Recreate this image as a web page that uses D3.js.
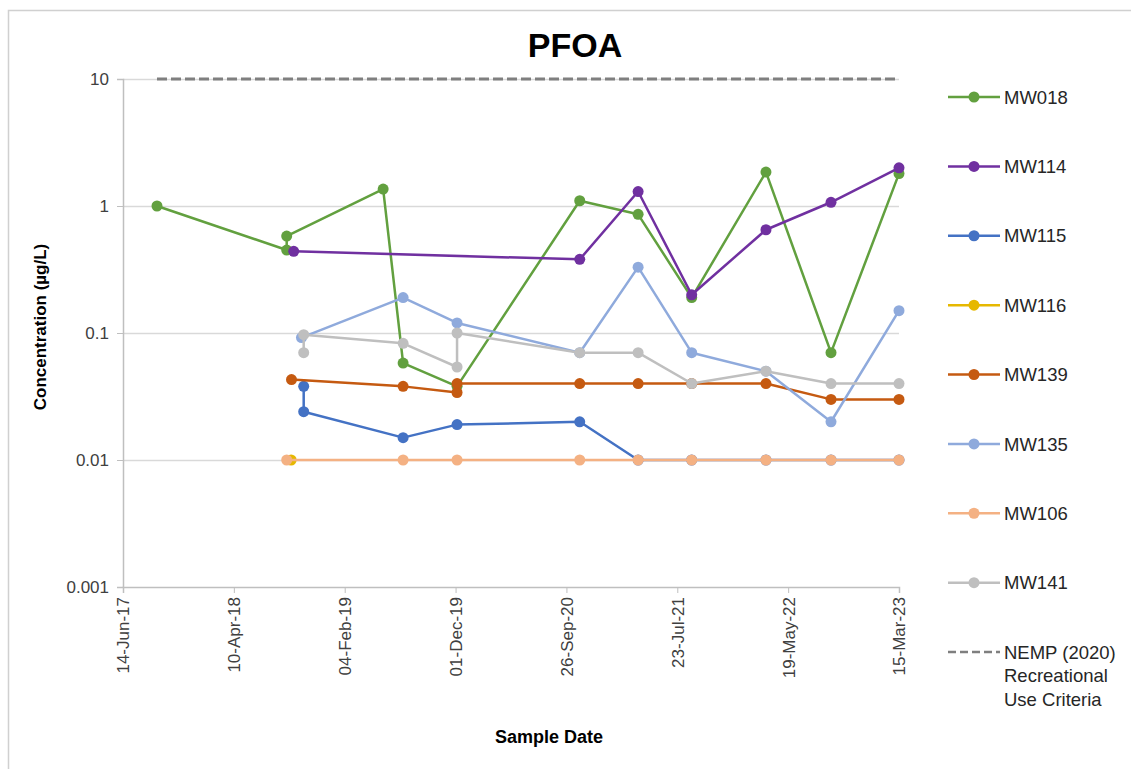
<!DOCTYPE html>
<html>
<head>
<meta charset="utf-8">
<script src="https://cdn.jsdelivr.net/npm/d3@7"></script>
<style>
  body { margin: 0; background: #fff; }
  text { font-family: "Liberation Sans", Arial, sans-serif; }
</style>
</head>
<body>
<svg id="chart" width="1131" height="769"></svg>
<script>
// sample dates and concentrations (ug/L)
var mw018Dates = ["2017-09-14", "2018-08-31", "2018-08-31", "2019-05-19", "2019-07-12", "2019-12-05", "2020-11-01", "2021-04-08", "2021-08-31", "2022-03-20", "2022-09-12", "2023-03-15"];
var mw018Values = [1.0, 0.45, 0.58, 1.36, 0.058, 0.038, 1.1, 0.86, 0.19, 1.85, 0.07, 1.8];

var mw114Dates = ["2018-09-19", "2020-11-01", "2021-04-08", "2021-08-31", "2022-03-20", "2022-09-12", "2023-03-15"];
var mw114Values = [0.44, 0.38, 1.3, 0.2, 0.65, 1.07, 2.0];

var mw115Dates = ["2018-10-16", "2018-10-16", "2019-07-12", "2019-12-05", "2020-11-01", "2021-04-08", "2021-08-31", "2022-03-20", "2022-09-12", "2023-03-15"];
var mw115Values = [0.038, 0.024, 0.015, 0.019, 0.02, 0.01, 0.01, 0.01, 0.01, 0.01];

var mw116Dates = ["2018-09-12"];
var mw116Values = [0.01];

var mw139Dates = ["2018-09-13", "2019-07-12", "2019-12-05", "2019-12-05", "2020-11-01", "2021-04-08", "2021-08-31", "2022-03-20", "2022-09-12", "2023-03-15"];
var mw139Values = [0.043, 0.038, 0.034, 0.04, 0.04, 0.04, 0.04, 0.04, 0.03, 0.03];

var mw135Dates = ["2018-10-10", "2019-07-12", "2019-12-05", "2020-11-01", "2021-04-08", "2021-08-31", "2022-03-20", "2022-09-12", "2023-03-15"];
var mw135Values = [0.092, 0.19, 0.12, 0.07, 0.33, 0.07, 0.05, 0.02, 0.15];

var mw106Dates = ["2018-08-31", "2019-07-12", "2019-12-05", "2020-11-01", "2021-04-08", "2021-08-31", "2022-03-20", "2022-09-12", "2023-03-15"];
var mw106Values = [0.01, 0.01, 0.01, 0.01, 0.01, 0.01, 0.01, 0.01, 0.01];

var mw141Dates = ["2018-10-16", "2018-10-16", "2019-07-12", "2019-12-05", "2019-12-05", "2020-11-01", "2021-04-08", "2021-08-31", "2022-03-20", "2022-09-12", "2023-03-15"];
var mw141Values = [0.07, 0.097, 0.083, 0.054, 0.1, 0.07, 0.07, 0.04, 0.05, 0.04, 0.04];

var criteriaDates = ["2017-09-14", "2023-03-15"];
var criteriaValues = [10, 10];

var seriesNames = ["MW018", "MW114", "MW115", "MW116", "MW139", "MW135", "MW106", "MW141"];
var seriesColors = ["#62A03F", "#7030A0", "#4472C4", "#E6B800", "#C55A11", "#8FAADC", "#F4B183", "#BFBFBF"];
var seriesDates = [mw018Dates, mw114Dates, mw115Dates, mw116Dates, mw139Dates, mw135Dates, mw106Dates, mw141Dates];
var seriesValues = [mw018Values, mw114Values, mw115Values, mw116Values, mw139Values, mw135Values, mw106Values, mw141Values];

var yTicks = [0.001, 0.01, 0.1, 1, 10];
var yTickLabels = ["0.001", "0.01", "0.1", "1", "10"];

var svg = d3.select("#chart");
var margin = { left: 123, right: 899, top: 79, bottom: 587 };

var parse = d3.utcParse("%Y-%m-%d");
var startDate = parse("2017-06-14"), endDate = parse("2023-03-15");

var x = d3.scaleUtc().domain([startDate, endDate]).range([margin.left, margin.right]);
var y = d3.scaleLog().domain([0.001, 10]).range([margin.bottom, margin.top]);

// x ticks every 300 days, like the spreadsheet axis
var xTicks = d3.range(0, 2101, 300).map(function (d) { return d3.utcDay.offset(startDate, d); });
var fmt = d3.utcFormat("%d-%b-%y");

// outer frame (left and top edges visible)
svg.append("rect").attr("x", 8.5).attr("y", 10.5).attr("width", 1200).attr("height", 800)
  .attr("fill", "none").attr("stroke", "#D0D0D0").attr("stroke-width", 1.5);

// gridlines
svg.append("g").selectAll("line").data(yTicks.slice(1)).enter().append("line")
  .attr("x1", margin.left).attr("x2", margin.right)
  .attr("y1", function (d) { return Math.round(y(d)) + 0.5; })
  .attr("y2", function (d) { return Math.round(y(d)) + 0.5; })
  .attr("stroke", "#D9D9D9").attr("stroke-width", 1.3);

// y axis
var yAxis = d3.axisLeft(y).tickValues(yTicks).tickFormat(function (d, i) { return yTickLabels[i]; }).tickSize(6).tickPadding(8);
var gy = svg.append("g").attr("transform", "translate(" + margin.left + ",0)").call(yAxis);
gy.select(".domain").attr("stroke", "#BFBFBF").attr("stroke-width", 1.5);
gy.selectAll(".tick line").attr("stroke", "#BFBFBF");
gy.selectAll(".tick text").attr("font-size", 17).attr("fill", "#404040")
  .attr("font-family", "Liberation Sans, Arial, sans-serif");

// x axis
var xAxis = d3.axisBottom(x).tickValues(xTicks).tickFormat(fmt).tickSize(6).tickPadding(6);
var gx = svg.append("g").attr("transform", "translate(0," + margin.bottom + ")").call(xAxis);
gx.select(".domain").attr("stroke", "#BFBFBF").attr("stroke-width", 1.5);
gx.selectAll(".tick line").attr("stroke", "#BFBFBF");
gx.selectAll(".tick text").attr("font-size", 17).attr("fill", "#404040")
  .attr("font-family", "Liberation Sans, Arial, sans-serif")
  .attr("text-anchor", "end").attr("transform", "rotate(-90)")
  .attr("x", -10).attr("y", 0).attr("dy", "0.35em");

// criteria dashed line
var line = d3.line().x(function (d) { return x(d[0]); }).y(function (d) { return y(d[1]); });
var critPts = criteriaDates.map(function (d, i) { return [parse(d), criteriaValues[i]]; });
svg.append("path").datum(critPts).attr("d", line)
  .attr("fill", "none").attr("stroke", "#7F7F7F").attr("stroke-width", 3).attr("stroke-dasharray", "10,4");

// series
seriesNames.forEach(function (name, s) {
  var pts = seriesDates[s].map(function (d, i) { return [parse(d), seriesValues[s][i]]; });
  var g = svg.append("g");
  g.append("path").datum(pts).attr("d", line)
    .attr("fill", "none").attr("stroke", seriesColors[s]).attr("stroke-width", 2.5).attr("stroke-linejoin", "round");
  g.selectAll("circle").data(pts).enter().append("circle")
    .attr("cx", function (d) { return x(d[0]); })
    .attr("cy", function (d) { return y(d[1]); })
    .attr("r", 5.5).attr("fill", seriesColors[s]);
});

// title and axis labels
svg.append("text").attr("x", 575).attr("y", 57).attr("text-anchor", "middle")
  .attr("font-size", 34).attr("font-weight", "bold").attr("fill", "#000").text("PFOA");
svg.append("text").attr("transform", "translate(46,327) rotate(-90)").attr("text-anchor", "middle")
  .attr("font-size", 17).attr("font-weight", "bold").attr("fill", "#000").text("Concentration (µg/L)");
svg.append("text").attr("x", 549).attr("y", 743).attr("text-anchor", "middle")
  .attr("font-size", 18).attr("font-weight", "bold").attr("fill", "#000").text("Sample Date");

// legend
var legendY = d3.scaleLinear().domain([0, 8]).range([97, 652]);
var lg = svg.append("g");
seriesNames.forEach(function (name, s) {
  var ly = legendY(s);
  lg.append("line").attr("x1", 948).attr("x2", 1000).attr("y1", ly).attr("y2", ly)
    .attr("stroke", seriesColors[s]).attr("stroke-width", 2.5);
  lg.append("circle").attr("cx", 974).attr("cy", ly).attr("r", 5.5).attr("fill", seriesColors[s]);
  lg.append("text").attr("x", 1004).attr("y", ly).attr("dy", "0.36em")
    .attr("font-size", 18.5).attr("fill", "#262626").text(name);
});
var ly8 = legendY(8);
lg.append("line").attr("x1", 948).attr("x2", 1000).attr("y1", ly8).attr("y2", ly8)
  .attr("stroke", "#7F7F7F").attr("stroke-width", 2.5).attr("stroke-dasharray", "8,4");
["NEMP (2020)", "Recreational", "Use Criteria"].forEach(function (t, i) {
  lg.append("text").attr("x", 1004).attr("y", ly8 + i * 23.5).attr("dy", "0.36em")
    .attr("font-size", 18.5).attr("fill", "#262626").text(t);
});
</script>
</body>
</html>
